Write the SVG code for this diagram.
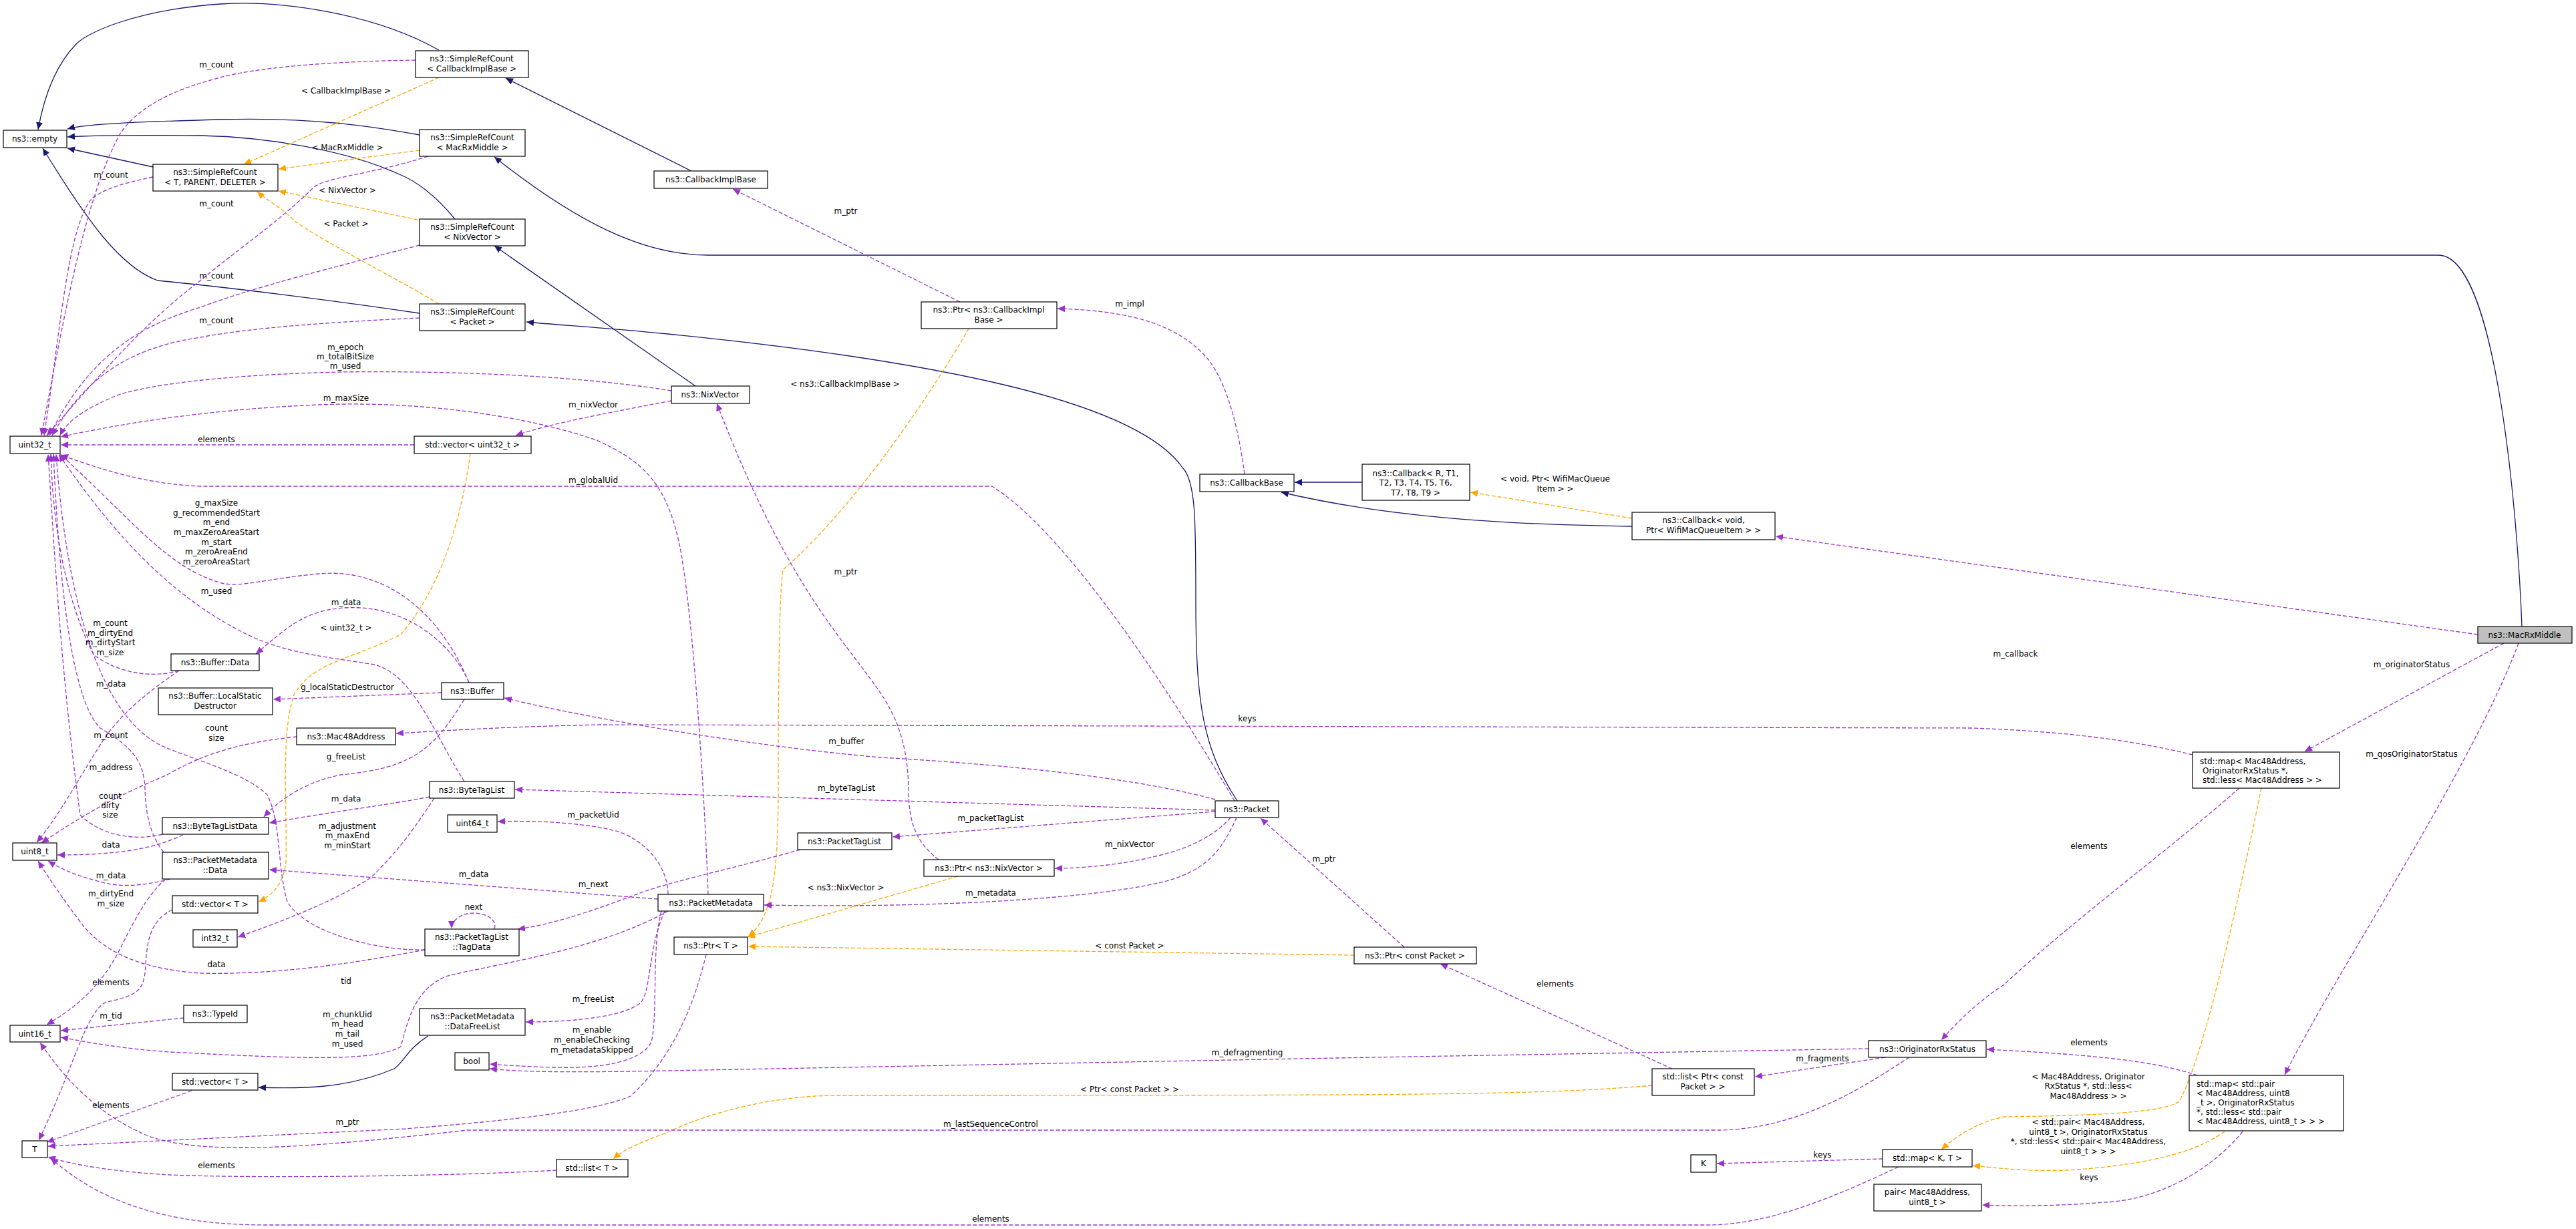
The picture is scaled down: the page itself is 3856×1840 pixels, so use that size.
<svg xmlns="http://www.w3.org/2000/svg" width="3856" height="1840" viewBox="0 0 3856 1840">
<style>
.n rect{fill:#fff;stroke:#000;stroke-width:1.2}
.n text,.l{font-family:"DejaVu Sans",sans-serif;font-size:12px;fill:#000;text-anchor:middle}
.n text.s{text-anchor:start}
.e path{fill:none;stroke-width:1.3}
.b{stroke:#191970}
.p{stroke:#9a32cd;stroke-dasharray:6,3}
.o{stroke:#ffa500;stroke-dasharray:6,3}
</style>
<defs>
<marker id="ab" markerUnits="userSpaceOnUse" markerWidth="12" markerHeight="10" refX="11" refY="5" orient="auto"><path d="M0,0 L11,5 L0,10 z" fill="#191970"/></marker>
<marker id="ap" markerUnits="userSpaceOnUse" markerWidth="12" markerHeight="10" refX="11" refY="5" orient="auto"><path d="M0,0 L11,5 L0,10 z" fill="#9a32cd"/></marker>
<marker id="ao" markerUnits="userSpaceOnUse" markerWidth="12" markerHeight="10" refX="11" refY="5" orient="auto"><path d="M0,0 L11,5 L0,10 z" fill="#ffa500"/></marker>
</defs>
<rect width="3856" height="1840" fill="#fff"/>
<g id="edges" class="e">
<g class="b" marker-end="url(#ab)">
<path d="M657,75 C560,20 420,0 330,6 C200,15 130,50 115,65 C80,100 65,150 57,194"/>
<path d="M628,202 C560,190 470,175 330,179 C220,182 130,185 101,193"/>
<path d="M681,328 C650,290 620,270 600,262 C520,225 400,205 300,203 C200,202 130,203 101,205"/>
<path d="M229,250 L101,222"/>
<path d="M628,469 C500,450 340,430 236,420 C180,400 130,330 64,222"/>
<path d="M1035,256 L757,117"/>
<path d="M3775,938 C3770,800 3740,382 3650,382 L1060,382 C960,382 860,330 740,235"/>
<path d="M1041,578 L740,368"/>
<path d="M1852,1199 C1800,1120 1790,1050 1790,900 C1790,780 1790,720 1770,700 C1700,600 1400,540 1000,500 C900,490 840,487 788,482"/>
<path d="M2039,722 L1938,722"/>
<path d="M2443,788 C2300,786 2100,780 1918,737"/>
<path d="M641,1551 C610,1570 605,1590 590,1600 C520,1630 450,1630 387,1628"/>
</g>
<g class="o" marker-end="url(#ao)">
<path d="M657,116 L365,246"/>
<path d="M628,225 L417,253"/>
<path d="M625,329 L417,286"/>
<path d="M657,455 C600,420 480,360 440,330 C420,310 400,300 385,287"/>
<path d="M704,679 C690,780 660,880 600,950 C520,990 470,990 440,1040 C420,1100 430,1200 428,1290 C425,1320 410,1340 387,1350"/>
<path d="M1450,492 C1400,580 1280,760 1172,853 C1165,900 1165,1100 1165,1200 C1163,1300 1160,1370 1120,1402"/>
<path d="M1434,1312 L1119,1403"/>
<path d="M2027,1430 L1120,1417"/>
<path d="M2473,1625 C2300,1640 2100,1640 1255,1640 C1150,1640 1050,1670 1000,1695 C960,1710 935,1720 918,1735"/>
<path d="M2443,776 L2201,737"/>
<path d="M3385,1180 C3350,1350 3300,1580 3262,1649 C3240,1665 3150,1670 3000,1672 C2960,1680 2930,1700 2906,1721"/>
<path d="M3330,1694 C3300,1715 3250,1740 3110,1751 C3050,1755 3000,1750 2953,1745"/>
</g>
<g class="p" marker-end="url(#ap)">
<path d="M622,90 C500,92 380,100 319,119 C240,140 200,170 180,200 C130,290 100,450 62,652"/>
<path d="M229,265 C180,275 150,285 135,300 C100,350 90,500 66,652"/>
<path d="M641,234 C560,260 490,265 470,280 C420,330 360,370 300,420 C220,480 150,560 70,652"/>
<path d="M628,367 C500,400 380,430 300,460 C200,490 130,540 74,652"/>
<path d="M628,476 C500,482 380,490 300,505 C200,520 130,560 78,652"/>
<path d="M1005,585 C850,560 650,555 510,557 C380,560 250,570 180,590 C130,610 100,630 90,652"/>
<path d="M1060,1339 C1055,1200 1040,950 1020,830 C1000,720 960,690 893,659 C780,620 620,600 478,606 C330,612 200,630 91,654"/>
<path d="M620,666 L91,666"/>
<path d="M1848,1199 C1760,1050 1600,800 1485,728 L300,728 C230,725 170,710 91,681"/>
<path d="M702,1022 C660,920 580,850 478,859 C400,866 360,880 332,873 C250,850 200,780 90,680"/>
<path d="M695,1170 C650,1100 620,1010 560,995 C500,985 440,980 383,956 C260,900 170,800 88,680"/>
<path d="M268,1004 C230,1015 180,1010 140,980 C100,900 80,800 76,680"/>
<path d="M243,1249 C200,1260 150,1250 120,1220 C90,1000 80,800 72,680"/>
<path d="M245,1276 C225,1250 218,1220 217,1180 C215,1140 200,1120 150,1090 C110,1050 90,900 80,680"/>
<path d="M636,1422 C574,1424 460,1400 430,1350 C415,1300 421,1230 400,1190 C370,1160 300,1140 250,1120 C150,1080 100,900 84,680"/>
<path d="M444,1103 C380,1110 320,1120 250,1160 C180,1190 140,1210 62,1262"/>
<path d="M274,1250 C240,1265 200,1280 86,1280"/>
<path d="M255,1316 C220,1325 180,1330 150,1320 C110,1310 90,1300 72,1289"/>
<path d="M268,1004 C230,1030 190,1060 160,1100 C120,1160 90,1220 55,1261"/>
<path d="M636,1422 C540,1440 420,1460 300,1457 C200,1450 150,1420 120,1380 C90,1340 70,1310 57,1289"/>
<path d="M740,1391 C745,1375 725,1367 709,1367 C690,1367 676,1378 676,1390"/>
<path d="M248,1316 C220,1340 200,1380 180,1420 C150,1480 110,1510 70,1534"/>
<path d="M258,1362 C230,1375 220,1400 218,1445 C216,1480 210,1490 160,1500 C130,1510 110,1600 58,1707"/>
<path d="M275,1524 L91,1543"/>
<path d="M1000,1364 C900,1420 760,1440 670,1461 C620,1480 610,1530 600,1567 C560,1590 450,1585 255,1575 C180,1570 130,1560 91,1553"/>
<path d="M985,1346 L403,1302"/>
<path d="M995,1364 C970,1420 975,1480 960,1500 C940,1520 870,1530 787,1530"/>
<path d="M990,1364 C975,1420 985,1520 975,1560 C960,1590 900,1600 829,1598 C790,1597 760,1595 733,1593"/>
<path d="M2797,1570 L2000,1584 L1000,1603 C850,1606 780,1605 733,1600"/>
<path d="M1819,1213 L771,1182"/>
<path d="M1819,1197 C1720,1170 1560,1148 1319,1134 C1150,1120 900,1080 755,1045"/>
<path d="M1819,1215 L1336,1253"/>
<path d="M1842,1224 C1820,1250 1780,1270 1738,1280 C1680,1295 1620,1300 1579,1300"/>
<path d="M1851,1224 C1830,1270 1810,1300 1750,1318 C1650,1345 1400,1360 1144,1355"/>
<path d="M1405,1287 C1370,1260 1360,1230 1360,1180 C1358,1080 1320,1040 1287,995 C1230,920 1160,830 1073,604"/>
<path d="M1198,1272 C1100,1300 1000,1320 950,1340 C870,1370 820,1385 775,1391"/>
<path d="M643,1193 C580,1205 500,1215 403,1232"/>
<path d="M661,1037 L409,1047"/>
<path d="M702,1022 C680,970 620,915 540,910 C460,906 430,940 383,979"/>
<path d="M695,1047 C650,1120 620,1150 510,1160 C460,1170 420,1195 395,1223"/>
<path d="M650,1195 C620,1240 600,1270 555,1314 C500,1350 420,1380 356,1403"/>
<path d="M3282,1130 C3200,1110 3100,1095 2950,1090 L900,1085 C750,1088 650,1095 593,1098"/>
<path d="M3709,950 L2658,803"/>
<path d="M3748,963 L3450,1125"/>
<path d="M3770,963 C3700,1150 3500,1450 3420,1609"/>
<path d="M3352,1180 C3250,1270 3100,1380 3000,1474 C2960,1500 2930,1530 2906,1557"/>
<path d="M3289,1610 C3230,1590 3150,1580 2974,1571"/>
<path d="M3357,1694 C3320,1740 3250,1790 3164,1799 C3080,1806 3020,1806 2967,1804"/>
<path d="M2818,1735 L2570,1742"/>
<path d="M2842,1747 C2750,1790 2650,1834 2555,1834 L400,1834 C250,1834 150,1800 76,1734"/>
<path d="M2858,1583 C2800,1620 2700,1690 2574,1692 L700,1692 C450,1720 300,1730 220,1700 C150,1670 100,1620 60,1561"/>
<path d="M1057,1429 C1040,1500 1010,1580 944,1641 C900,1660 800,1675 606,1690 C400,1700 200,1710 72,1716"/>
<path d="M833,1752 C700,1760 400,1765 255,1759 C180,1755 110,1745 72,1732"/>
<path d="M287,1633 L70,1710"/>
<path d="M2822,1583 L2627,1612"/>
<path d="M2503,1600 L2156,1443"/>
<path d="M2102,1418 L1887,1225"/>
<path d="M1863,710 C1855,650 1840,580 1810,540 C1770,490 1700,465 1583,462"/>
<path d="M1437,452 L1097,283"/>
<path d="M1005,600 C900,620 820,635 772,652"/>
<path d="M1000,1339 C1000,1300 970,1260 925,1245 C880,1232 800,1228 745,1230"/>
</g>
<text class="l" x="324" y="101">m_count</text>
<text class="l" x="518" y="140">&lt; CallbackImplBase &gt;</text>
<text class="l" x="520" y="225">&lt; MacRxMiddle &gt;</text>
<text class="l" x="166" y="266">m_count</text>
<text class="l" x="520" y="289">&lt; NixVector &gt;</text>
<text class="l" x="324" y="309">m_count</text>
<text class="l" x="518" y="339">&lt; Packet &gt;</text>
<text class="l" x="324" y="417">m_count</text>
<text class="l" x="324" y="484">m_count</text>
<text class="l" x="517" y="524">m_epoch</text>
<text class="l" x="517" y="538">m_totalBitSize</text>
<text class="l" x="517" y="552">m_used</text>
<text class="l" x="518" y="600">m_maxSize</text>
<text class="l" x="888" y="610">m_nixVector</text>
<text class="l" x="1266" y="320">m_ptr</text>
<text class="l" x="1691" y="459">m_impl</text>
<text class="l" x="1265" y="579">&lt; ns3::CallbackImplBase &gt;</text>
<text class="l" x="324" y="662">elements</text>
<text class="l" x="888" y="723">m_globalUid</text>
<text class="l" x="324" y="757">g_maxSize</text>
<text class="l" x="324" y="772">g_recommendedStart</text>
<text class="l" x="324" y="786">m_end</text>
<text class="l" x="324" y="801">m_maxZeroAreaStart</text>
<text class="l" x="324" y="816">m_start</text>
<text class="l" x="324" y="830">m_zeroAreaEnd</text>
<text class="l" x="324" y="845">m_zeroAreaStart</text>
<text class="l" x="324" y="889">m_used</text>
<text class="l" x="518" y="906">m_data</text>
<text class="l" x="518" y="944">&lt; uint32_t &gt;</text>
<text class="l" x="165" y="937">m_count</text>
<text class="l" x="165" y="952">m_dirtyEnd</text>
<text class="l" x="165" y="966">m_dirtyStart</text>
<text class="l" x="165" y="981">m_size</text>
<text class="l" x="166" y="1028">m_data</text>
<text class="l" x="520" y="1033">g_localStaticDestructor</text>
<text class="l" x="324" y="1094">count</text>
<text class="l" x="324" y="1109">size</text>
<text class="l" x="166" y="1105">m_count</text>
<text class="l" x="518" y="1137">g_freeList</text>
<text class="l" x="166" y="1153">m_address</text>
<text class="l" x="165" y="1196">count</text>
<text class="l" x="165" y="1210">dirty</text>
<text class="l" x="165" y="1224">size</text>
<text class="l" x="518" y="1200">m_data</text>
<text class="l" x="1867" y="1080">keys</text>
<text class="l" x="1267" y="1114">m_buffer</text>
<text class="l" x="1267" y="1184">m_byteTagList</text>
<text class="l" x="1266" y="860">m_ptr</text>
<text class="l" x="888" y="1224">m_packetUid</text>
<text class="l" x="166" y="1269">data</text>
<text class="l" x="520" y="1241">m_adjustment</text>
<text class="l" x="520" y="1255">m_maxEnd</text>
<text class="l" x="520" y="1270">m_minStart</text>
<text class="l" x="166" y="1315">m_data</text>
<text class="l" x="709" y="1313">m_data</text>
<text class="l" x="888" y="1328">m_next</text>
<text class="l" x="166" y="1342">m_dirtyEnd</text>
<text class="l" x="166" y="1357">m_size</text>
<text class="l" x="709" y="1362">next</text>
<text class="l" x="324" y="1448">data</text>
<text class="l" x="166" y="1475">elements</text>
<text class="l" x="518" y="1473">tid</text>
<text class="l" x="166" y="1525">m_tid</text>
<text class="l" x="520" y="1523">m_chunkUid</text>
<text class="l" x="520" y="1537">m_head</text>
<text class="l" x="520" y="1552">m_tail</text>
<text class="l" x="520" y="1567">m_used</text>
<text class="l" x="888" y="1500">m_freeList</text>
<text class="l" x="886" y="1546">m_enable</text>
<text class="l" x="886" y="1561">m_enableChecking</text>
<text class="l" x="886" y="1576">m_metadataSkipped</text>
<text class="l" x="166" y="1659">elements</text>
<text class="l" x="520" y="1684">m_ptr</text>
<text class="l" x="324" y="1749">elements</text>
<text class="l" x="1483" y="1229">m_packetTagList</text>
<text class="l" x="1691" y="1268">m_nixVector</text>
<text class="l" x="1266" y="1333">&lt; ns3::NixVector &gt;</text>
<text class="l" x="1483" y="1341">m_metadata</text>
<text class="l" x="1691" y="1420">&lt; const Packet &gt;</text>
<text class="l" x="1867" y="1580">m_defragmenting</text>
<text class="l" x="1691" y="1635">&lt; Ptr&lt; const Packet &gt; &gt;</text>
<text class="l" x="1483" y="1687">m_lastSequenceControl</text>
<text class="l" x="1483" y="1829">elements</text>
<text class="l" x="1982" y="1290">m_ptr</text>
<text class="l" x="2328" y="1477">elements</text>
<text class="l" x="2728" y="1589">m_fragments</text>
<text class="l" x="2728" y="1733">keys</text>
<text class="l" x="2328" y="721">&lt; void, Ptr&lt; WifiMacQueue</text>
<text class="l" x="2328" y="736">Item &gt; &gt;</text>
<text class="l" x="3017" y="983">m_callback</text>
<text class="l" x="3610" y="999">m_originatorStatus</text>
<text class="l" x="3610" y="1133">m_qosOriginatorStatus</text>
<text class="l" x="3127" y="1271">elements</text>
<text class="l" x="3127" y="1565">elements</text>
<text class="l" x="3126" y="1616">&lt; Mac48Address, Originator</text>
<text class="l" x="3126" y="1630">RxStatus *, std::less&lt;</text>
<text class="l" x="3126" y="1645">Mac48Address &gt; &gt;</text>
<text class="l" x="3126" y="1684">&lt; std::pair&lt; Mac48Address,</text>
<text class="l" x="3126" y="1699">uint8_t &gt;, OriginatorRxStatus</text>
<text class="l" x="3126" y="1713">*, std::less&lt; std::pair&lt; Mac48Address,</text>
<text class="l" x="3126" y="1728">uint8_t &gt; &gt; &gt;</text>
<text class="l" x="3127" y="1767">keys</text>
</g>
<g id="n_empty" class="n"><rect x="5" y="195" width="95" height="26"/><text x="52" y="212">ns3::empty</text></g>
<g id="n_src_cib" class="n"><rect x="622" y="76" width="169" height="40"/><text x="706" y="92">ns3::SimpleRefCount</text><text x="706" y="107">&lt; CallbackImplBase &gt;</text></g>
<g id="n_src_mrm" class="n"><rect x="628" y="194" width="158" height="40"/><text x="707" y="210">ns3::SimpleRefCount</text><text x="707" y="225">&lt; MacRxMiddle &gt;</text></g>
<g id="n_src_tpd" class="n"><rect x="229" y="246" width="187" height="40"/><text x="322" y="262">ns3::SimpleRefCount</text><text x="322" y="277">&lt; T, PARENT, DELETER &gt;</text></g>
<g id="n_src_nv" class="n"><rect x="628" y="328" width="158" height="40"/><text x="707" y="344">ns3::SimpleRefCount</text><text x="707" y="359">&lt; NixVector &gt;</text></g>
<g id="n_src_p" class="n"><rect x="628" y="455" width="158" height="40"/><text x="707" y="471">ns3::SimpleRefCount</text><text x="707" y="486">&lt; Packet &gt;</text></g>
<g id="n_cib" class="n"><rect x="979" y="256" width="170" height="26"/><text x="1064" y="273">ns3::CallbackImplBase</text></g>
<g id="n_ptr_cib" class="n"><rect x="1379" y="452" width="203" height="40"/><text x="1480" y="468">ns3::Ptr&lt; ns3::CallbackImpl</text><text x="1480" y="483">Base &gt;</text></g>
<g id="n_nixvector" class="n"><rect x="1005" y="578" width="117" height="26"/><text x="1063" y="595">ns3::NixVector</text></g>
<g id="n_uint32" class="n"><rect x="15" y="653" width="75" height="26"/><text x="52" y="670">uint32_t</text></g>
<g id="n_vec_u32" class="n"><rect x="620" y="653" width="175" height="26"/><text x="707" y="670">std::vector&lt; uint32_t &gt;</text></g>
<g id="n_cbbase" class="n"><rect x="1796" y="710" width="141" height="26"/><text x="1866" y="727">ns3::CallbackBase</text></g>
<g id="n_cb_r" class="n"><rect x="2039" y="695" width="161" height="54"/><text x="2119" y="713">ns3::Callback&lt; R, T1,</text><text x="2119" y="727">T2, T3, T4, T5, T6,</text><text x="2119" y="742">T7, T8, T9 &gt;</text></g>
<g id="n_cb_void" class="n"><rect x="2443" y="767" width="214" height="41"/><text x="2550" y="783">ns3::Callback&lt; void,</text><text x="2550" y="798">Ptr&lt; WifiMacQueueItem &gt; &gt;</text></g>
<g id="n_macrxmiddle" class="n"><rect x="3709" y="938" width="141" height="25" style="fill:#bfbfbf"/><text x="3779" y="955">ns3::MacRxMiddle</text></g>
<g id="n_map_mac" class="n"><rect x="3282" y="1126" width="220" height="54"/><text class="s" x="3293" y="1144">std::map&lt; Mac48Address,</text><text class="s" x="3297" y="1158">OriginatorRxStatus *,</text><text class="s" x="3297" y="1172">std::less&lt; Mac48Address &gt; &gt;</text></g>
<g id="n_bufdata" class="n"><rect x="256" y="979" width="132" height="25"/><text x="322" y="996">ns3::Buffer::Data</text></g>
<g id="n_lsd" class="n"><rect x="237" y="1030" width="171" height="40"/><text x="322" y="1046">ns3::Buffer::LocalStatic</text><text x="322" y="1061">Destructor</text></g>
<g id="n_buffer" class="n"><rect x="661" y="1022" width="93" height="25"/><text x="707" y="1039">ns3::Buffer</text></g>
<g id="n_mac48" class="n"><rect x="444" y="1090" width="148" height="25"/><text x="518" y="1107">ns3::Mac48Address</text></g>
<g id="n_btl" class="n"><rect x="643" y="1170" width="127" height="25"/><text x="706" y="1187">ns3::ByteTagList</text></g>
<g id="n_packet" class="n"><rect x="1819" y="1199" width="95" height="25"/><text x="1866" y="1216">ns3::Packet</text></g>
<g id="n_btld" class="n"><rect x="243" y="1224" width="159" height="25"/><text x="322" y="1241">ns3::ByteTagListData</text></g>
<g id="n_uint64" class="n"><rect x="670" y="1220" width="74" height="26"/><text x="707" y="1237">uint64_t</text></g>
<g id="n_uint8" class="n"><rect x="19" y="1262" width="66" height="26"/><text x="52" y="1279">uint8_t</text></g>
<g id="n_pmdata" class="n"><rect x="243" y="1276" width="159" height="40"/><text x="322" y="1292">ns3::PacketMetadata</text><text x="322" y="1307">::Data</text></g>
<g id="n_pmeta" class="n"><rect x="985" y="1339" width="158" height="25"/><text x="1064" y="1356">ns3::PacketMetadata</text></g>
<g id="n_ptl" class="n"><rect x="1194" y="1247" width="141" height="25"/><text x="1264" y="1264">ns3::PacketTagList</text></g>
<g id="n_ptr_nv" class="n"><rect x="1383" y="1287" width="195" height="25"/><text x="1480" y="1304">ns3::Ptr&lt; ns3::NixVector &gt;</text></g>
<g id="n_vect1" class="n"><rect x="258" y="1341" width="128" height="26"/><text x="322" y="1358">std::vector&lt; T &gt;</text></g>
<g id="n_tagdata" class="n"><rect x="636" y="1391" width="141" height="40"/><text x="706" y="1407">ns3::PacketTagList</text><text x="706" y="1422">::TagData</text></g>
<g id="n_int32" class="n"><rect x="289" y="1392" width="66" height="26"/><text x="322" y="1409">int32_t</text></g>
<g id="n_ptr_t" class="n"><rect x="1009" y="1403" width="110" height="26"/><text x="1064" y="1420">ns3::Ptr&lt; T &gt;</text></g>
<g id="n_ptr_cp" class="n"><rect x="2027" y="1418" width="183" height="25"/><text x="2118" y="1435">ns3::Ptr&lt; const Packet &gt;</text></g>
<g id="n_typeid" class="n"><rect x="275" y="1505" width="95" height="26"/><text x="322" y="1522">ns3::TypeId</text></g>
<g id="n_uint16" class="n"><rect x="15" y="1535" width="75" height="25"/><text x="52" y="1552">uint16_t</text></g>
<g id="n_dfl" class="n"><rect x="628" y="1510" width="158" height="40"/><text x="707" y="1526">ns3::PacketMetadata</text><text x="707" y="1541">::DataFreeList</text></g>
<g id="n_origrx" class="n"><rect x="2797" y="1558" width="176" height="25"/><text x="2885" y="1575">ns3::OriginatorRxStatus</text></g>
<g id="n_bool" class="n"><rect x="681" y="1576" width="51" height="26"/><text x="706" y="1593">bool</text></g>
<g id="n_list_pcp" class="n"><rect x="2473" y="1600" width="153" height="40"/><text x="2549" y="1616">std::list&lt; Ptr&lt; const</text><text x="2549" y="1631">Packet &gt; &gt;</text></g>
<g id="n_vect2" class="n"><rect x="258" y="1607" width="128" height="25"/><text x="322" y="1624">std::vector&lt; T &gt;</text></g>
<g id="n_map_pair" class="n"><rect x="3277" y="1610" width="231" height="83"/><text class="s" x="3288" y="1627">std::map&lt; std::pair</text><text class="s" x="3288" y="1641">&lt; Mac48Address, uint8</text><text class="s" x="3288" y="1655">_t &gt;, OriginatorRxStatus</text><text class="s" x="3288" y="1669"> *, std::less&lt; std::pair</text><text class="s" x="3288" y="1683">&lt; Mac48Address, uint8_t &gt; &gt; &gt;</text></g>
<g id="n_T" class="n"><rect x="33" y="1708" width="38" height="25"/><text x="52" y="1725">T</text></g>
<g id="n_map_kt" class="n"><rect x="2818" y="1721" width="134" height="26"/><text x="2885" y="1738">std::map&lt; K, T &gt;</text></g>
<g id="n_K" class="n"><rect x="2531" y="1729" width="38" height="26"/><text x="2550" y="1746">K</text></g>
<g id="n_list_t" class="n"><rect x="833" y="1736" width="107" height="26"/><text x="886" y="1753">std::list&lt; T &gt;</text></g>
<g id="n_pair" class="n"><rect x="2805" y="1773" width="161" height="40"/><text x="2885" y="1789">pair&lt; Mac48Address,</text><text x="2885" y="1804">uint8_t &gt;</text></g>
</svg>
